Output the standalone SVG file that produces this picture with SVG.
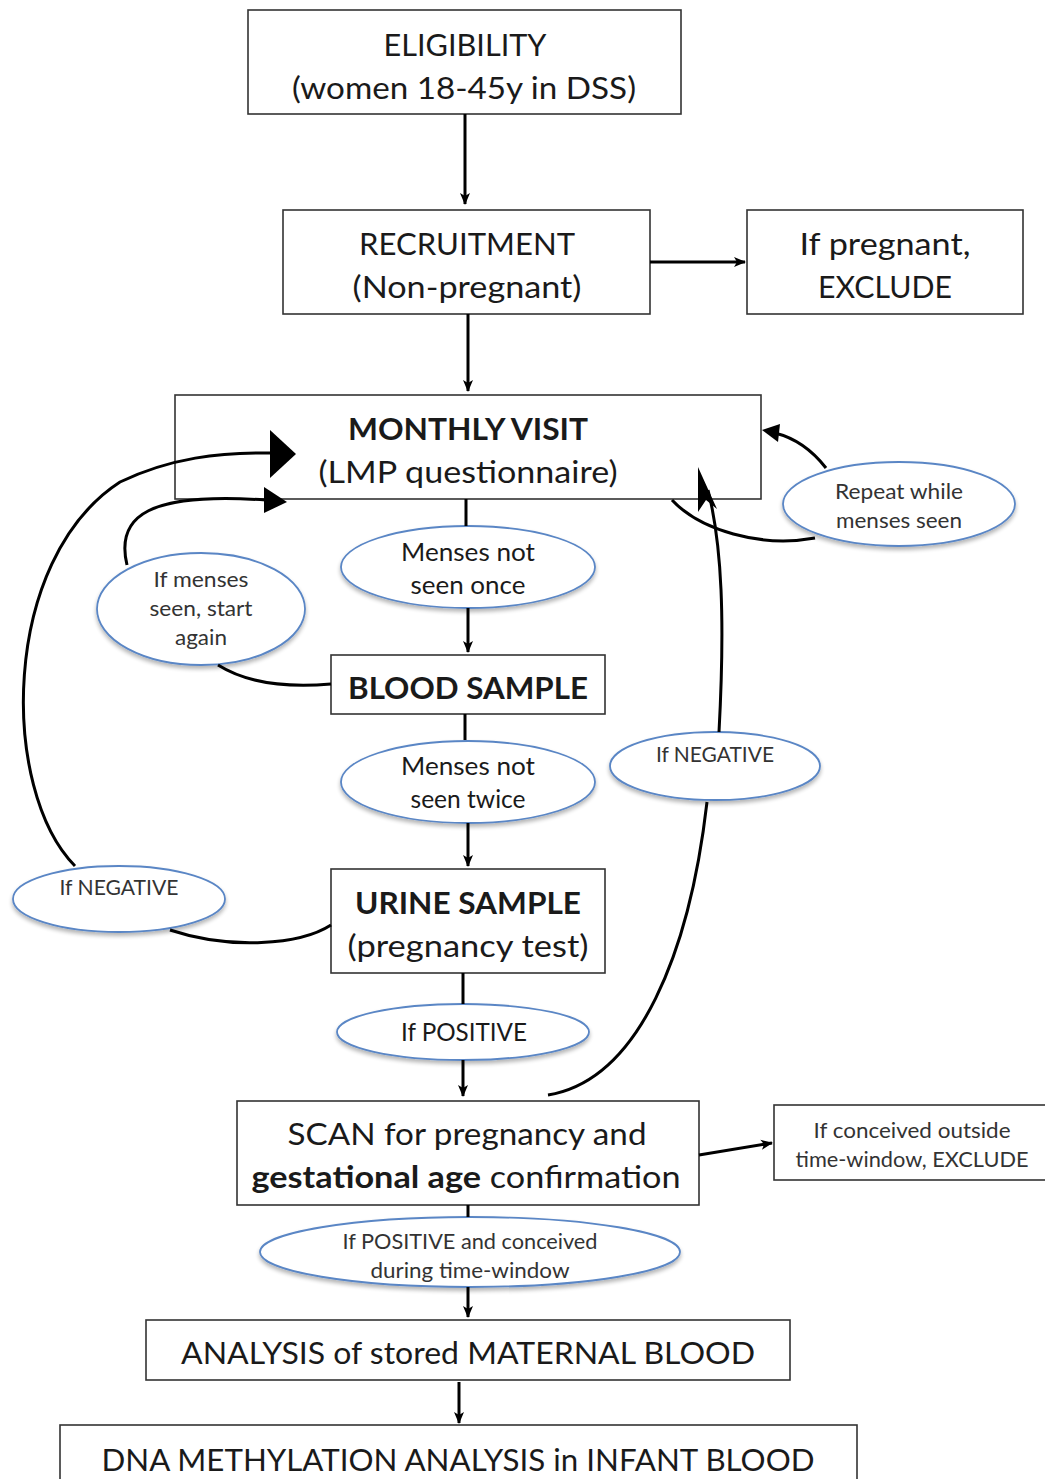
<svg xmlns="http://www.w3.org/2000/svg" width="1045" height="1479" viewBox="0 0 1045 1479">
<defs>
<style>
.box{fill:#fff;stroke:#333;stroke-width:1.6}
.ell{fill:#fff;stroke:#5a86c5;stroke-width:1.8;filter:url(#sh)}
.t{font-family:Lato,"Open Sans","Liberation Sans",sans-serif;fill:#1a1a1a;text-anchor:middle}
.big{font-size:31px}
.b{font-weight:bold}
.mid{font-size:25px}
.sm{font-size:21.5px;fill:#333}
.c{fill:none;stroke:#000;stroke-width:3}
.hd{fill:#000}
</style>
<marker id="ah" viewBox="0 0 12 12" refX="11" refY="6" markerWidth="12" markerHeight="12" markerUnits="userSpaceOnUse" orient="auto">
<path d="M0,1 L12,6 L0,11 L3,6 Z" fill="#000"/>
</marker>
<filter id="sh" x="-10%" y="-10%" width="125%" height="135%">
<feGaussianBlur in="SourceAlpha" stdDeviation="2"/>
<feOffset dx="0" dy="3" result="o"/>
<feComponentTransfer><feFuncA type="linear" slope="0.3"/></feComponentTransfer>
<feMerge><feMergeNode/><feMergeNode in="SourceGraphic"/></feMerge>
</filter>
</defs>
<rect width="1045" height="1479" fill="#fff"/>

<g id="eligibility">
<rect class="box" x="248" y="10" width="433" height="104"/>
<text class="t big" x="465" y="56" textLength="163" lengthAdjust="spacingAndGlyphs">ELIGIBILITY</text>
<text class="t big" x="464" y="99" textLength="344" lengthAdjust="spacingAndGlyphs">(women 18-45y in DSS)</text>
</g>
<g id="recruitment">
<rect class="box" x="283" y="210" width="367" height="104"/>
<text class="t big" x="467" y="255" textLength="216" lengthAdjust="spacingAndGlyphs">RECRUITMENT</text>
<text class="t big" x="467" y="298" textLength="229" lengthAdjust="spacingAndGlyphs">(Non-pregnant)</text>
</g>
<g id="exclude1">
<rect class="box" x="747" y="210" width="276" height="104"/>
<text class="t big" x="885" y="255" textLength="171" lengthAdjust="spacingAndGlyphs">If pregnant,</text>
<text class="t big" x="885" y="298" textLength="134" lengthAdjust="spacingAndGlyphs">EXCLUDE</text>
</g>
<g id="monthly">
<rect class="box" x="175" y="395" width="586" height="104"/>
<text class="t big b" x="468" y="440" textLength="240" lengthAdjust="spacingAndGlyphs">MONTHLY VISIT</text>
<text class="t big" x="468" y="483" textLength="299" lengthAdjust="spacingAndGlyphs">(LMP questionnaire)</text>
</g>
<g id="once">
<ellipse class="ell" cx="468" cy="567" rx="127" ry="41"/>
<text class="t mid" x="468" y="561" textLength="134" lengthAdjust="spacingAndGlyphs">Menses not</text>
<text class="t mid" x="468" y="594" textLength="115" lengthAdjust="spacingAndGlyphs">seen once</text>
</g>
<g id="blood">
<rect class="box" x="331" y="655" width="274" height="59"/>
<text class="t big b" x="468" y="699" textLength="240" lengthAdjust="spacingAndGlyphs">BLOOD SAMPLE</text>
</g>
<g id="twice">
<ellipse class="ell" cx="468" cy="782" rx="127" ry="41"/>
<text class="t mid" x="468" y="775" textLength="134" lengthAdjust="spacingAndGlyphs">Menses not</text>
<text class="t mid" x="468" y="808" textLength="115" lengthAdjust="spacingAndGlyphs">seen twice</text>
</g>
<g id="urine">
<rect class="box" x="331" y="869" width="274" height="104"/>
<text class="t big b" x="468" y="914" textLength="226" lengthAdjust="spacingAndGlyphs">URINE SAMPLE</text>
<text class="t big" x="468" y="957" textLength="241" lengthAdjust="spacingAndGlyphs">(pregnancy test)</text>
</g>
<g id="positive">
<ellipse class="ell" cx="463" cy="1032" rx="126" ry="28"/>
<text class="t mid" x="464" y="1041" textLength="126" lengthAdjust="spacingAndGlyphs">If POSITIVE</text>
</g>
<g id="scan">
<rect class="box" x="237" y="1101" width="462" height="104"/>
<text class="t big" x="467" y="1145" textLength="359" lengthAdjust="spacingAndGlyphs">SCAN for pregnancy and</text>
<text class="t big" x="466" y="1188" textLength="429" lengthAdjust="spacingAndGlyphs"><tspan class="b">gestational age</tspan> confirmation</text>
</g>
<g id="exclude2">
<rect class="box" x="774" y="1105" width="275" height="75"/>
<text class="t sm" x="912" y="1138" textLength="197" lengthAdjust="spacingAndGlyphs">If conceived outside</text>
<text class="t sm" x="912" y="1167" textLength="233" lengthAdjust="spacingAndGlyphs">time-window, EXCLUDE</text>
</g>
<g id="during">
<ellipse class="ell" cx="470" cy="1252" rx="210" ry="35"/>
<text class="t sm" x="470" y="1249" textLength="255" lengthAdjust="spacingAndGlyphs">If POSITIVE and conceived</text>
<text class="t sm" x="470" y="1278" textLength="199" lengthAdjust="spacingAndGlyphs">during time-window</text>
</g>
<g id="analysis">
<rect class="box" x="146" y="1320" width="644" height="60"/>
<text class="t big" x="468" y="1364" textLength="574" lengthAdjust="spacingAndGlyphs">ANALYSIS of stored MATERNAL BLOOD</text>
</g>
<g id="dna">
<rect class="box" x="60" y="1425" width="797" height="70"/>
<text class="t big" x="458" y="1471" textLength="713" lengthAdjust="spacingAndGlyphs">DNA METHYLATION ANALYSIS in INFANT BLOOD</text>
</g>
<g id="restart">
<ellipse class="ell" cx="201" cy="609" rx="104" ry="56"/>
<text class="t sm" x="201" y="587" textLength="95" lengthAdjust="spacingAndGlyphs">If menses</text>
<text class="t sm" x="201" y="616" textLength="103" lengthAdjust="spacingAndGlyphs">seen, start</text>
<text class="t sm" x="201" y="645" textLength="52" lengthAdjust="spacingAndGlyphs">again</text>
</g>
<g id="repeat">
<ellipse class="ell" cx="899" cy="504" rx="116" ry="42"/>
<text class="t sm" x="899" y="499" textLength="128" lengthAdjust="spacingAndGlyphs">Repeat while</text>
<text class="t sm" x="899" y="528" textLength="126" lengthAdjust="spacingAndGlyphs">menses seen</text>
</g>
<g id="negleft">
<ellipse class="ell" cx="119" cy="899" rx="106" ry="33"/>
<text class="t sm" x="119" y="895" textLength="119" lengthAdjust="spacingAndGlyphs">If NEGATIVE</text>
</g>
<g id="negright">
<ellipse class="ell" cx="715" cy="766" rx="105" ry="34"/>
<text class="t sm" x="715" y="762" textLength="118" lengthAdjust="spacingAndGlyphs">If NEGATIVE</text>
</g>

<g id="connectors">
<path class="c" d="M465,114 V204" marker-end="url(#ah)"/>
<path class="c" d="M650,262 H745" marker-end="url(#ah)"/>
<path class="c" d="M468,314 V391" marker-end="url(#ah)"/>
<path class="c" d="M466,499 V526"/>
<path class="c" d="M468,608 V652" marker-end="url(#ah)"/>
<path class="c" d="M465,714 V740"/>
<path class="c" d="M468,823 V866" marker-end="url(#ah)"/>
<path class="c" d="M463,973 V1004"/>
<path class="c" d="M463,1060 V1096" marker-end="url(#ah)"/>
<path class="c" d="M699,1155 L772,1143" marker-end="url(#ah)"/>
<path class="c" d="M468,1205 V1217"/>
<path class="c" d="M468,1287 V1317" marker-end="url(#ah)"/>
<path class="c" d="M459,1382 V1423" marker-end="url(#ah)"/>
<!-- If menses seen loop -->
<path class="c" d="M331,684 C285,688 245,682 218,665"/>
<path class="c" d="M127,565 C115,515 150,492 266,500"/>
<polygon class="hd" points="287,502 264,487 264,513"/>
<!-- If NEGATIVE left loop -->
<path class="c" d="M331,925 C300,945 230,950 170,930"/>
<path class="c" d="M75,866 C0,790 0,560 120,482 C170,458 220,452 272,453"/>
<polygon class="hd" points="296,454 270,430 270,478"/>
<!-- Repeat loop -->
<path class="c" d="M672,500 C700,530 760,548 815,538"/>
<path class="c" d="M826,468 C812,450 795,438 775,433"/>
<polygon class="hd" points="762,430 780,424 778,442"/>
<!-- If NEGATIVE right loop -->
<path class="c" d="M548,1095 C640,1080 690,950 707,802"/>
<path class="c" d="M719,732 C725,620 722,545 708,490"/>
<polygon class="hd" points="698,467 717,509 706,500 698,512"/>
</g>
</svg>
